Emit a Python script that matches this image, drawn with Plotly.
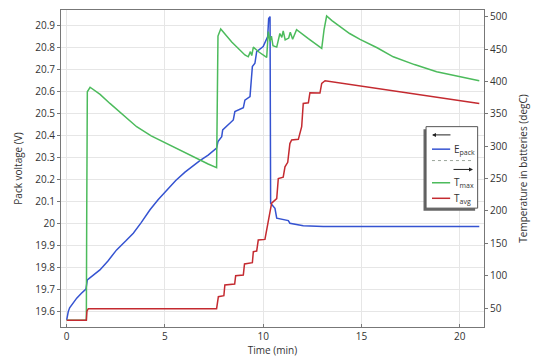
import plotly.graph_objects as go

# ---- data ----
t_pack = [0, 0.03, 0.08, 0.15, 0.25, 0.38, 0.51, 0.75, 0.98, 1.05, 1.3, 1.69, 2.1, 2.54, 3.0,
          3.39, 3.8, 4.24, 4.65, 5.09, 5.55, 6.02, 6.4, 6.78, 7.2, 7.63, 7.70,
          7.89, 7.94, 8.48, 8.56, 8.99, 9.07, 9.33, 9.41, 9.45, 9.58, 9.67, 10.0, 10.09, 10.23,
          10.28, 10.35, 10.38, 10.6, 10.69, 11.28, 11.36, 12.04, 13.06, 21]
e_pack = [19.562, 19.585, 19.60, 19.617, 19.63, 19.647, 19.661, 19.683, 19.702, 19.744, 19.763,
          19.789, 19.83, 19.88, 19.92, 19.956, 20.005, 20.062, 20.108, 20.152, 20.195,
          20.233, 20.26, 20.285, 20.31, 20.342, 20.372, 20.394, 20.425, 20.47, 20.508, 20.525,
          20.56, 20.576, 20.667, 20.712, 20.727, 20.78, 20.803, 20.818, 20.848, 20.93, 20.939,
          20.092, 20.069, 20.024, 20.013, 20.001, 19.99, 19.986, 19.986]

t_max_t = [0, 1.0, 1.02, 1.05, 1.19, 1.4, 1.7, 2.2, 2.9, 3.56, 4.3, 5.09, 5.9, 6.78, 7.2, 7.63,
           7.66, 7.7, 7.84, 8.4, 9.07, 9.24, 9.35, 9.42, 9.5, 9.8, 10.18, 10.26, 10.35, 10.42,
           10.5, 10.69, 10.85, 10.95, 11.02, 11.12, 11.3, 11.38, 11.5, 11.7, 12.3, 12.98, 13.1,
           13.23, 13.5, 13.9, 14.4, 14.93, 15.8, 16.62, 17.7, 18.83, 19.9, 21]
t_max = [31, 31, 200, 384, 391, 387, 380, 366, 348, 330, 316, 304, 291, 278.6, 272.5, 266.7,
         440, 470, 481, 461, 440.8, 438, 446, 440, 453, 445, 437, 477, 462, 470,
         455, 453, 474, 468, 478, 464, 467, 476, 465, 480, 466, 451, 480,
         501, 494, 484.5, 474, 465, 452, 438, 426, 415, 408, 401]

t_avg_t = [0, 1.0, 1.03, 1.1, 7.63, 7.68, 7.72, 8.0, 8.05, 8.55, 8.6, 8.99, 9.05, 9.45, 9.5,
           9.67, 9.75, 10.09, 10.18, 10.35, 10.43, 10.69, 10.77, 11.02, 11.11, 11.25, 11.36,
           11.45, 11.79, 11.96, 12.04, 12.30, 12.38, 12.89, 12.98, 13.15, 14.93, 17, 19, 21]
t_avg = [31, 31, 45, 49, 49, 60, 67.5, 69, 85.5, 87, 100, 101, 118, 120, 137,
         138, 155, 156, 170, 196, 212, 219, 250, 252, 268, 275, 304,
         309.5, 310.5, 330, 366, 367, 382.6, 382, 397, 401, 393, 384, 375, 366]

left_ticks = [19.6, 19.7, 19.8, 19.9, 20.0, 20.1, 20.2, 20.3, 20.4, 20.5, 20.6, 20.7, 20.8, 20.9]
left_labels = ["19.6", "19.7", "19.8", "19.9", "20", "20.1", "20.2", "20.3", "20.4", "20.5",
               "20.6", "20.7", "20.8", "20.9"]
right_ticks = [50, 100, 150, 200, 250, 300, 350, 400, 450, 500]
x_ticks = [0, 5, 10, 15, 20]

BLUE = "#3553d1"
GREEN = "#4cbb5c"
RED = "#c42a30"
FONT = "Open Sans"
TXT = "#333333"
AX = "#777777"

fig = go.Figure()
fig.add_trace(go.Scatter(x=t_pack, y=e_pack, mode="lines", line=dict(color=BLUE, width=1.5),
                         yaxis="y", showlegend=False))
fig.add_trace(go.Scatter(x=t_max_t, y=t_max, mode="lines", line=dict(color=GREEN, width=1.5),
                         yaxis="y2", showlegend=False))
fig.add_trace(go.Scatter(x=t_avg_t, y=t_avg, mode="lines", line=dict(color=RED, width=1.5),
                         yaxis="y2", showlegend=False))

fig.update_layout(
    width=554, height=359,
    margin=dict(l=61, r=70, t=10, b=32),
    paper_bgcolor="white", plot_bgcolor="white",
    font=dict(family=FONT, size=10, color=TXT),
    xaxis=dict(range=[-0.29, 21.24], tickvals=x_ticks, showgrid=True, gridcolor="#e6e6e6",
               zeroline=False, showline=True, linecolor=AX, mirror=True, ticks="inside",
               ticklen=3, tickcolor=AX, automargin=False,
               title=dict(text="Time (min)", standoff=0, font=dict(size=10))),
    yaxis=dict(range=[19.530, 20.969], tickvals=left_ticks, ticktext=left_labels,
               showgrid=True, gridcolor="#e6e6e6", zeroline=False, showline=True,
               linecolor=AX, ticks="outside", ticklen=3, tickcolor=AX, automargin=False,
               title=dict(text="Pack voltage (V)", standoff=10, font=dict(size=10))),
    yaxis2=dict(range=[20.7, 510.3], tickvals=right_ticks, overlaying="y", side="right",
                showgrid=False, zeroline=False, showline=True, linecolor=AX,
                ticks="outside", ticklen=3, tickcolor=AX, automargin=False,
                title=dict(text="Temperature in batteries (degC)", standoff=13,
                           font=dict(size=10))),
)

# ---- hand-made legend box ----
x0, x1, y0, y1 = 0.863, 0.985, 0.375, 0.632
fig.add_shape(type="rect", xref="paper", yref="paper", x0=x0 - 0.006, x1=x1 - 0.006,
              y0=y0 - 0.008, y1=y1 - 0.008, line=dict(width=0), fillcolor="#666666")
fig.add_shape(type="rect", xref="paper", yref="paper", x0=x0, x1=x1, y0=y0, y1=y1,
              line=dict(color="#555555", width=1), fillcolor="white")

lx0, lx1, tx = 0.877, 0.920, 0.924
entries = [(0.561, BLUE, "E<sub>pack</sub>"), (0.455, GREEN, "T<sub>max</sub>"),
           (0.406, RED, "T<sub>avg</sub>")]
for yy, col, name in entries:
    fig.add_shape(type="line", xref="paper", yref="paper", x0=lx0, x1=lx1, y0=yy, y1=yy,
                  line=dict(color=col, width=1.5))
    fig.add_annotation(xref="paper", yref="paper", x=tx, y=yy, text=name, showarrow=False,
                       xanchor="left", yanchor="middle", font=dict(size=10, color=TXT))
fig.add_shape(type="line", xref="paper", yref="paper", x0=0.877, x1=0.974, y0=0.525, y1=0.525,
              line=dict(color="#9aa59a", width=1, dash="dot"))
fig.add_annotation(xref="paper", yref="paper", x=0.877, y=0.606, ax=20, ay=0, text="",
                   showarrow=True, arrowhead=2, arrowsize=0.8, arrowwidth=1, arrowcolor="#222222")
fig.add_annotation(xref="paper", yref="paper", x=0.974, y=0.497, ax=-21, ay=0, text="",
                   showarrow=True, arrowhead=2, arrowsize=0.8, arrowwidth=1, arrowcolor="#222222")

fig.write_html("out.html", config={"displayModeBar": False},
               post_script="document.body.style.margin='0';document.body.style.padding='0';")
